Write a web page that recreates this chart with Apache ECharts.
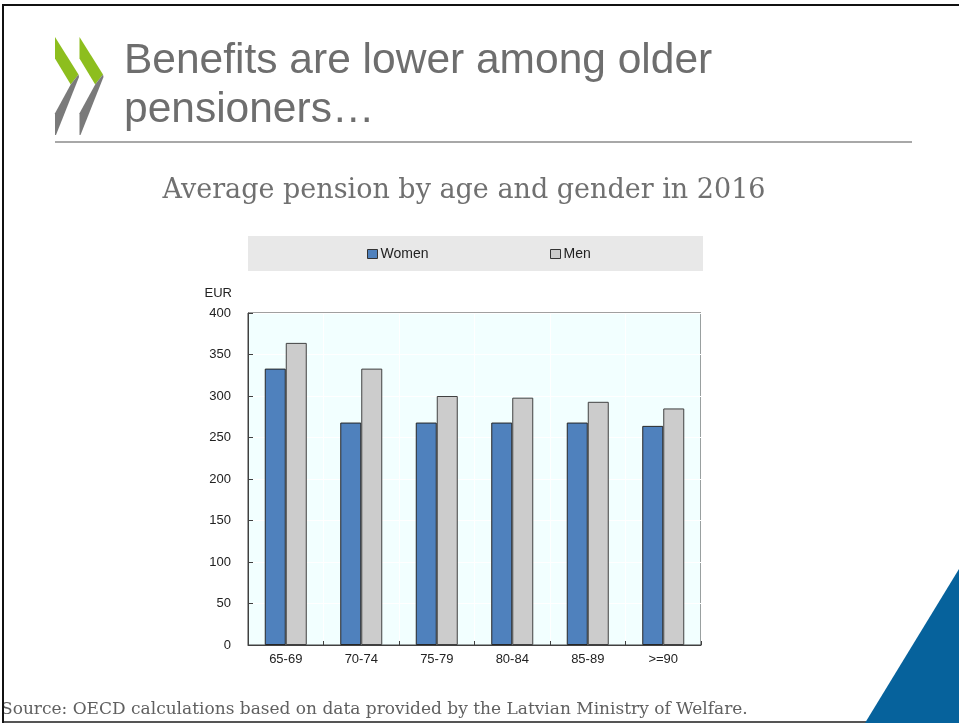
<!DOCTYPE html>
<html>
<head>
<meta charset="utf-8">
<script src="https://cdn.jsdelivr.net/npm/echarts@6/dist/echarts.min.js"></script>
<style>
html,body{margin:0;padding:0;background:#fff;}
#main{width:959px;height:723px;}
</style>
</head>
<body>
<div id="main"></div>
<script>
var categories = ['65-69', '70-74', '75-79', '80-84', '85-89', '>=90'];
var women = [333, 268, 268, 268, 268, 264];
var men = [364, 333, 300, 298, 293, 285];
var seriesNames = ['Women', 'Men'];
var titleLines = 'Benefits are lower among older\npensioners\u2026';
var subtitle = 'Average pension by age and gender in 2016';
var sourceText = 'Source: OECD calculations based on data provided by the Latvian Ministry of Welfare.';
var unitLabel = 'EUR';

var chart = echarts.init(document.getElementById('main'), null, {renderer: 'canvas'});

function chevron(dx) {
  return [
    {type: 'polygon', shape: {points: [[55 + dx, 37], [78.5 + dx, 74.5], [70.7 + dx, 84.5], [55 + dx, 58.5]]}, style: {fill: '#8DBE1E'}, z: 10},
    {type: 'polygon', shape: {points: [[70.7 + dx, 84.5], [78.5 + dx, 74.5], [79 + dx, 77], [56 + dx, 135], [55 + dx, 135], [55 + dx, 113.3]]}, style: {fill: '#7A7A7A'}, z: 10}
  ];
}

var graphics = [
  {type: 'rect', shape: {x: 2, y: 4, width: 957, height: 2}, style: {fill: '#111'}, z: 20},
  {type: 'rect', shape: {x: 2, y: 4, width: 2, height: 719}, style: {fill: '#111'}, z: 20},
  {type: 'rect', shape: {x: 2, y: 721, width: 957, height: 2}, style: {fill: '#555'}, z: 5},
  {type: 'polygon', shape: {points: [[959, 569], [959, 723], [865, 723]]}, style: {fill: '#06629C'}, z: 6},
  {type: 'rect', shape: {x: 55, y: 141, width: 857, height: 2}, style: {fill: '#A8A8A8'}, z: 5},
  {type: 'text', left: 124, top: 37, style: {text: titleLines, font: '42.5px "Liberation Sans", Arial, sans-serif', fill: '#6E6E6E', lineHeight: 49}, z: 10},
  {type: 'text', x: 464, y: 191, style: {text: subtitle, font: '27px "DejaVu Serif", serif', fill: '#707070', align: 'center', verticalAlign: 'middle'}, z: 10},
  {type: 'rect', shape: {x: 248, y: 236, width: 455, height: 35}, style: {fill: '#E8E8E8'}, z: 0},
  {type: 'text', x: 1, y: 710, style: {text: sourceText, font: '17px "DejaVu Serif", serif', fill: '#606060', verticalAlign: 'middle'}, z: 10}
].concat(chevron(0)).concat(chevron(24.5));

var legendCommon = {
  top: 247, padding: 0, icon: 'rect', itemWidth: 10, itemHeight: 9, itemGap: 4,
  textStyle: {fontSize: 14, color: '#222', padding: [0, 0, 0, -2]},
  itemStyle: {borderColor: '#333', borderWidth: 1}
};

var option = {
  backgroundColor: '#ffffff',
  animation: false,
  textStyle: {fontFamily: '"Liberation Sans", Arial, sans-serif'},
  graphic: graphics,
  legend: [
    Object.assign({data: [seriesNames[0]], left: 367}, legendCommon),
    Object.assign({data: [seriesNames[1]], left: 550}, legendCommon)
  ],
  grid: {
    left: 248, top: 313, width: 453, height: 332,
    show: true, backgroundColor: '#F2FFFF', borderColor: '#404040', borderWidth: 1,
    containLabel: false
  },
  xAxis: {
    type: 'category',
    data: categories,
    axisLine: {show: true, lineStyle: {color: '#404040', width: 1}},
    axisTick: {show: true, inside: true, length: 4, lineStyle: {color: '#404040'}},
    axisLabel: {fontSize: 13, color: '#222', margin: 8},
    splitLine: {show: true, lineStyle: {color: '#ffffff', width: 1}}
  },
  yAxis: {
    type: 'value',
    min: 0, max: 400, interval: 50,
    name: unitLabel,
    nameLocation: 'end',
    nameGap: 13,
    nameTextStyle: {fontSize: 13, color: '#222', align: 'right', padding: [0, 16, 0, 0]},
    axisLine: {show: true, lineStyle: {color: '#404040', width: 1}},
    axisTick: {show: true, inside: true, length: 5, lineStyle: {color: '#404040'}},
    axisLabel: {fontSize: 13, color: '#222', margin: 17},
    splitLine: {show: true, lineStyle: {color: '#ffffff', width: 1}}
  },
  series: [
    {name: seriesNames[0], type: 'bar', data: women, barWidth: 21, barGap: '0%',
     itemStyle: {color: '#4F81BD', borderColor: '#262626', borderWidth: 1}},
    {name: seriesNames[1], type: 'bar', data: men, barWidth: 21, barGap: '0%',
     itemStyle: {color: '#CCCCCC', borderColor: '#404040', borderWidth: 1}}
  ]
};
chart.setOption(option);
</script>
</body>
</html>
